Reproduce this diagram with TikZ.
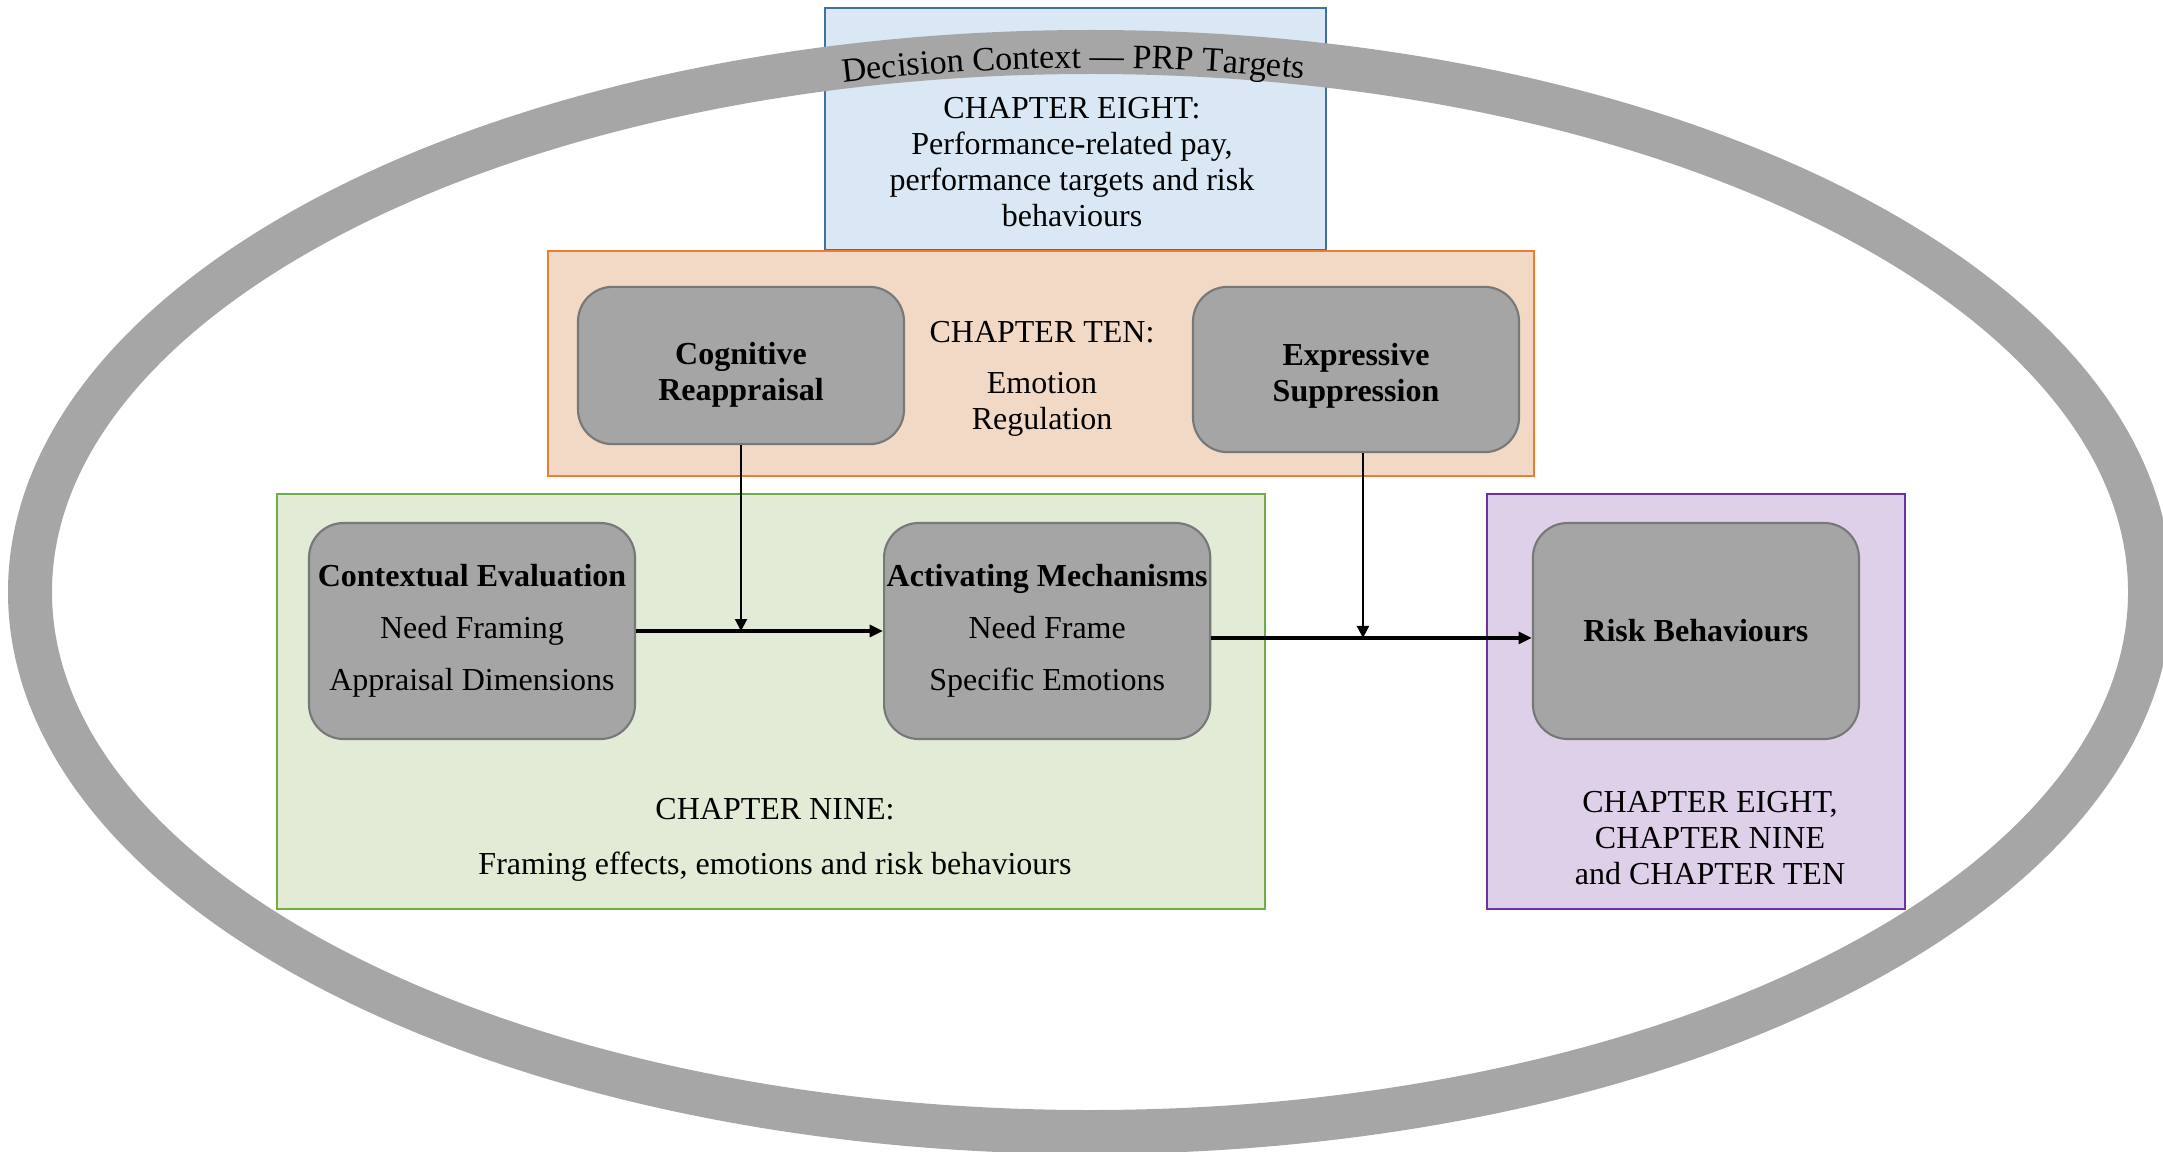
\documentclass[tikz,border=0pt]{standalone}
\usepackage{fontspec}
\setmainfont{Liberation Serif}
\usetikzlibrary{arrows.meta,positioning,calc,decorations.text}

\definecolor{ringgrey}{HTML}{A6A6A6}
\definecolor{stagefill}{HTML}{A5A5A5}
\definecolor{stageline}{HTML}{787878}
\definecolor{eightfill}{HTML}{DAE8F5}
\definecolor{eightline}{HTML}{41719C}
\definecolor{tenfill}{HTML}{F1D9C6}
\definecolor{tenline}{HTML}{ED7D31}
\definecolor{ninefill}{HTML}{E1EBD6}
\definecolor{nineline}{HTML}{70AD47}
\definecolor{allfill}{HTML}{DED0E9}
\definecolor{allline}{HTML}{7030A0}

\newcommand{\ringfont}{\fontsize{12.8}{13}\selectfont}
% lower a line of text without changing the node size
\newcommand{\sunk}[2]{\raisebox{-#1}[\height][\depth]{#2}}

\begin{document}
\begin{tikzpicture}[
    x=0.375pt, y=-0.375pt,
    every node/.style={font=\fontsize{12}{13.6}\selectfont},
    chapbox/.style={rectangle, line width=1pt, inner sep=0pt},
    stage/.style={draw=stageline, fill=stagefill, line width=0.8pt, rounded corners=13pt, align=center, inner xsep=1pt, minimum width=122.25pt, minimum height=81pt},
    regulation/.style={stage, minimum height=59pt},
    chaptext/.style={align=center, inner sep=0pt},
    flow/.style={-{Triangle[length=5pt, width=4.5pt]}, line width=1.2pt},
    feed/.style={-{Triangle[length=4.5pt, width=4.5pt]}, line width=0.8pt}
]
\useasboundingbox (0,0) rectangle (2163,1151);
% chapter areas
\node[chapbox, draw=eightline, fill=eightfill, minimum width=187.9pt, minimum height=90.75pt] (eightbox) at (1075.5,129) {};
\node[chapbox, draw=tenline, fill=tenfill, minimum width=369.75pt, minimum height=84.4pt] (tenbox) at (1041,363.5) {};
\node[chapbox, draw=nineline, fill=ninefill, minimum width=370.5pt, minimum height=155.6pt] (ninebox) at (771,701.5) {};
\node[chapbox, draw=allline, fill=allfill, minimum width=156.75pt, minimum height=155.6pt] (allbox) at (1696,701.5) {};
% decision context ring
\draw[ringgrey, line width=16.5pt] (1090,592) ellipse [x radius=1060, y radius=540];
\path[decorate, decoration={text along path, text align=center, text={|\ringfont|Decision Context {—} PRP Targets}}]
    ($(1090,592)+(242:1048 and 524)$) arc [start angle=242, end angle=296, x radius=1048, y radius=524];
% chapter texts
\node[chaptext] (eighttext) at (1072,162) {CHAPTER EIGHT:\\Performance-related pay,\\performance targets and risk\\behaviours};
\node[chaptext] (tentext) at (1042,379) {CHAPTER TEN:\\[5.5pt]Emotion\\Regulation};
\node[chaptext] (ninetext) at (775,840) {CHAPTER NINE:\\[7pt]Framing effects, emotions and risk behaviours};
\node[chaptext] (alltext) at (1710,838) {CHAPTER EIGHT,\\CHAPTER NINE\\and CHAPTER TEN};
% stages
\node[regulation] (reappraisal) at (741,365.5) {\sunk{3.6pt}{\textbf{Cognitive}}\\\sunk{3.6pt}{\textbf{Reappraisal}}};
\node[regulation, minimum height=62pt] (suppression) at (1356,369.5) {\sunk{2.4pt}{\textbf{Expressive}}\\\sunk{2.4pt}{\textbf{Suppression}}};
\node[stage] (evaluation) at (472,631) {\textbf{Contextual Evaluation}\\[6pt]Need Framing\\[6pt]Appraisal Dimensions};
\node[stage, right=92.6pt of evaluation] (mechanisms) {\textbf{Activating Mechanisms}\\[6pt]Need Frame\\[6pt]Specific Emotions};
\node[stage, right=120.2pt of mechanisms] (risk) {\textbf{Risk Behaviours}};
\coordinate (lowtop) at ([xshift=2.6pt]suppression.south);
\coordinate (lowjoin) at ([yshift=-2.6pt]lowtop |- risk.west);
\draw[flow] (evaluation) -- (mechanisms);
\draw[flow] ([yshift=-2.6pt]mechanisms.east) -- ([yshift=-2.6pt]risk.west);
\draw[feed] (reappraisal.south) -- (reappraisal.south |- evaluation.east);
\draw[feed] (lowtop) -- (lowjoin);
\end{tikzpicture}
\end{document}
